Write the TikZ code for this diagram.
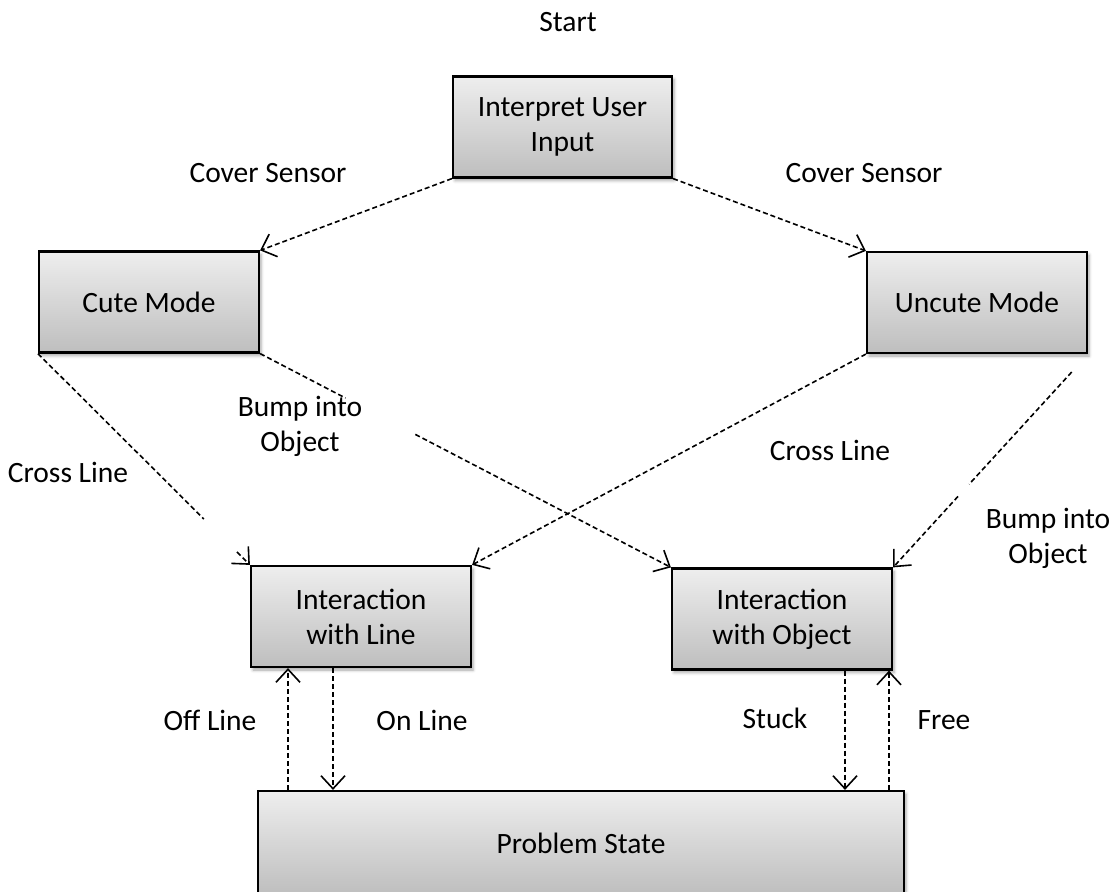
\documentclass[tikz,border=0pt]{standalone}
\usepackage{fontspec}
\setmainfont{Carlito}
\usetikzlibrary{arrows.meta,shadows.blur,calc}
\definecolor{boxtop}{RGB}{238,238,238}
\definecolor{boxbot}{RGB}{190,190,190}
\begin{document}
\begin{tikzpicture}[x=1pt,y=-1pt,
  txt/.style={font=\fontsize{29.5}{35}\selectfont, align=center, inner sep=0pt},
  statebox/.style={txt, draw=black, line width=2.2pt, top color=boxtop, bottom color=boxbot,
    minimum width=220pt, minimum height=101pt,
    blur shadow={shadow xshift=2pt, shadow yshift=-3pt, shadow blur radius=3pt, shadow opacity=35}},
  link/.style={line width=1.6pt, dash pattern=on 5pt off 3pt,
    -{Straight Barb[length=13pt,width=24pt,line width=1.6pt]}}]
\useasboundingbox (0,0) rectangle (1120,892);

% states
\node[statebox, minimum width=219pt] (interp) at (562.5,127) {Interpret User\\Input};
\node[statebox] (cute) at (149,302) {Cute Mode};
\node[statebox] (uncute) at (977,302.5) {Uncute Mode};
\node[statebox] (iline) at (361,616.5) {Interaction\\with Line};
\node[statebox] (iobj) at (782,619) {Interaction\\with Object};
\node[statebox, minimum width=646pt, minimum height=104pt] (prob) at (581,843) {Problem State};

% labels
\node[txt] (start) at (568,22) {Start};
\node[txt] (covl) at (268,173) {Cover Sensor};
\node[txt] (covr) at (864,173) {Cover Sensor};
\node[txt] (bumpl) at (300,426.5) {Bump into\\Object};
\node[txt] (crossl) at (68,472) {Cross Line};
\node[txt] (crossr) at (830,450) {Cross Line};
\node[txt] (bumpr) at (1048,538.5) {Bump into\\Object};
\node[txt] (offl) at (210,720) {Off Line};
\node[txt] (onl) at (422,720) {On Line};
\node[txt] (stuck) at (775,718) {Stuck};
\node[txt] (free) at (944,720) {Free};

% transitions
\draw[link] (interp.south west) -- (cute.north east);
\draw[link] (interp.south east) -- (uncute.north west);
\draw[link] (cute.south west) -- ($(cute.south west)!0.783!(iline.north west)$)
  ($(cute.south west)!0.939!(iline.north west)$) -- (iline.north west);
\draw[link] (cute.south east) -- ($(cute.south east)!0.208!(iobj.north west)$)
  ($(cute.south east)!0.378!(iobj.north west)$) -- (iobj.north west);
\draw[link] (uncute.south west) -- (iline.north east);
\draw[link] ($(uncute.south east)!0.084!(iobj.north east)$) -- ($(uncute.south east)!0.61!(iobj.north east)$)
  ($(uncute.south east)!0.667!(iobj.north east)$) -- (iobj.north east);

\coordinate (offb) at (288,791);
\coordinate (offt) at (288,667);
\draw[link] (prob.north -| offb) -- (iline.south -| offt);
\draw[link] (iline.south -| 333,0) -- (prob.north -| 333,0);
\draw[link] (iobj.south -| 845,0) -- (prob.north -| 845,0);
\draw[link] (prob.north -| 889,0) -- (iobj.south -| 889,0);
\end{tikzpicture}
\end{document}
